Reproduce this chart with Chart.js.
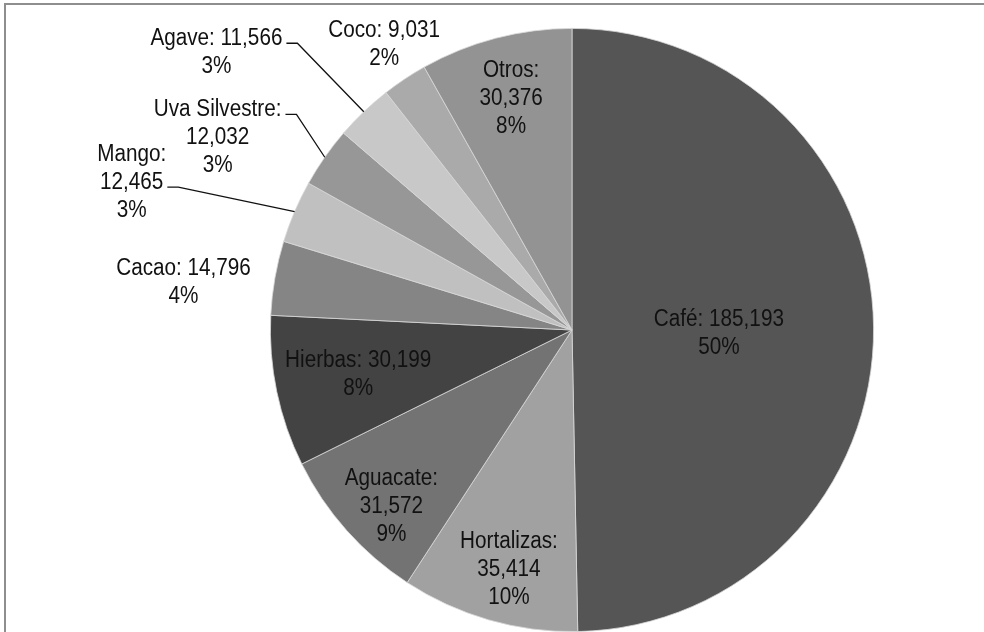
<!DOCTYPE html>
<html>
<head>
<meta charset="utf-8">
<script src="https://cdn.jsdelivr.net/npm/chart.js@4.4.0/dist/chart.umd.min.js"></script>
<style>
  html, body { margin: 0; padding: 0; background: #fff; }
  #wrap { position: relative; width: 984px; height: 632px; overflow: hidden; }
  #frame { position: absolute; left: 4px; top: 3px; width: 1000px; height: 700px; border: 2px solid #8e8e8e; box-sizing: border-box; }
  canvas { position: absolute; left: 0; top: 0; }
</style>
</head>
<body>
<div id="wrap">
  <div id="frame"></div>
  <canvas id="pie" width="984" height="632"></canvas>
</div>
<script>
const categories = ['Café', 'Hortalizas', 'Aguacate', 'Hierbas', 'Cacao', 'Mango', 'Uva Silvestre', 'Agave', 'Coco', 'Otros'];
const values = [185193, 35414, 31572, 30199, 14796, 12465, 12032, 11566, 9031, 30376];
const percents = [50, 10, 9, 8, 4, 3, 3, 3, 2, 8];

const colors = ['#555555', '#a1a1a1', '#737373', '#434343', '#858585', '#c0c0c0', '#979797', '#c8c8c8', '#aaaaaa', '#939393'];

// label block centre as offset from pie centre (in radius units), wrapping, leader line
const labelLayout = [
    { dx: 0.487, dy: 0.013, split: false },
    { dx: -0.209, dy: 0.795, split: true },
    { dx: -0.599, dy: 0.586, split: true },
    { dx: -0.709, dy: 0.149, split: false },
    { dx: -1.288, dy: -0.156, split: false },
    { dx: -1.460, dy: -0.490, split: true, leader: 1 },
    { dx: -1.175, dy: -0.639, split: true, leader: 0 },
    { dx: -1.179, dy: -0.921, split: false, leader: 0 },
    { dx: -0.623, dy: -0.947, split: false },
    { dx: -0.202, dy: -0.768, split: true }
];

const fontSize = 23;
const lineGap = 28;
const squeeze = 0.9;

function labelLines(i) {
    const num = values[i].toLocaleString('en-US');
    const pct = percents[i] + '%';
    if (labelLayout[i].split) return [categories[i] + ':', num, pct];
    return [categories[i] + ': ' + num, pct];
}

const pieLabels = {
    id: 'pieLabels',
    afterDatasetsDraw(chart) {
        const c = chart.ctx;
        const meta = chart.getDatasetMeta(0);
        c.save();
        c.font = fontSize + 'px "Liberation Sans", Arial, sans-serif';
        c.fillStyle = '#111';
        c.strokeStyle = '#111';
        c.lineWidth = 1.3;
        c.textAlign = 'center';
        c.textBaseline = 'middle';
        meta.data.forEach((arc, i) => {
            const p = arc.getProps(['x', 'y', 'outerRadius', 'startAngle', 'endAngle'], true);
            const lay = labelLayout[i];
            const bx = p.x + lay.dx * p.outerRadius;
            const by = p.y + lay.dy * p.outerRadius;
            const lines = labelLines(i);
            lines.forEach((txt, k) => {
                const ly = by + (k - (lines.length - 1) / 2) * lineGap;
                c.save();
                c.translate(bx, ly);
                c.scale(squeeze, 1);
                c.fillText(txt, 0, 0);
                c.restore();
                if (lay.leader === k) {
                    const w = c.measureText(txt).width * squeeze;
                    const sx = bx + w / 2 + 4;
                    const sy = ly + 5;
                    const mid = (p.startAngle + p.endAngle) / 2;
                    const ex = p.x + Math.cos(mid) * p.outerRadius;
                    const ey = p.y + Math.sin(mid) * p.outerRadius;
                    c.beginPath();
                    c.moveTo(sx, sy);
                    c.lineTo(sx + 11, sy);
                    c.lineTo(ex, ey);
                    c.stroke();
                }
            });
        });
        c.restore();
    }
};

new Chart(document.getElementById('pie'), {
    type: 'pie',
    data: {
        labels: categories,
        datasets: [{
            data: values,
            backgroundColor: colors,
            borderColor: '#d8d8d8',
            borderWidth: 0.8
        }]
    },
    options: {
        responsive: false,
        animation: false,
        layout: { padding: { left: 270, right: 110, top: 28, bottom: 0 } },
        plugins: {
            legend: { display: false },
            tooltip: { enabled: false }
        }
    },
    plugins: [pieLabels]
});
</script>
</body>
</html>
